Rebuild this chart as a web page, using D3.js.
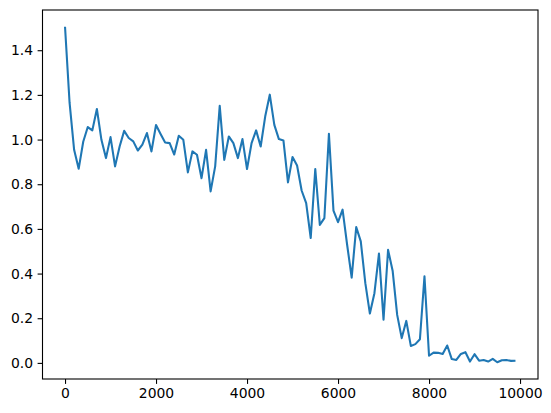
<!DOCTYPE html>
<meta charset="utf-8">
<style>
body { margin: 0; background: white; }
svg { display: block; }
.axis text { font-family: "DejaVu Sans", sans-serif; font-size: 13.9px; fill: black; }
.axis line { stroke: black; stroke-width: 1.1px; }
.axis path { display: none; }
.frame { fill: none; stroke: black; stroke-width: 1.1px; }
.line { fill: none; stroke: #1f77b4; stroke-width: 2.08px; stroke-linejoin: round; }
</style>
<svg width="551" height="413"></svg>
<script src="https://d3js.org/d3.v7.min.js"></script>
<script>

// x positions (step of 100) and values
var steps = d3.range(0, 10000, 100);
var values = [
  1.505, 1.165, 0.954, 0.869, 0.990, 1.056, 1.041, 1.137, 0.999, 0.917,
  1.011, 0.880, 0.969, 1.039, 1.007, 0.992, 0.951, 0.977, 1.029, 0.947,
  1.065, 1.025, 0.987, 0.984, 0.933, 1.017, 0.999, 0.853, 0.947, 0.932,
  0.827, 0.954, 0.768, 0.880, 1.151, 0.909, 1.014, 0.984, 0.917, 1.002,
  0.868, 0.984, 1.041, 0.969, 1.104, 1.201, 1.066, 1.002, 0.996, 0.808,
  0.922, 0.884, 0.772, 0.715, 0.559, 0.868, 0.618, 0.648, 1.026, 0.682,
  0.630, 0.686, 0.529, 0.382, 0.608, 0.544, 0.357, 0.221, 0.312, 0.490,
  0.193, 0.506, 0.413, 0.215, 0.111, 0.188, 0.076, 0.084, 0.106, 0.388,
  0.032, 0.046, 0.045, 0.040, 0.078, 0.017, 0.013, 0.040, 0.048, 0.006,
  0.039, 0.010, 0.013, 0.006, 0.018, 0.003, 0.012, 0.013, 0.009, 0.010
];
var xTicks = [0, 2000, 4000, 6000, 8000, 10000];
var yTicks = [0, 0.2, 0.4, 0.6, 0.8, 1.0, 1.2, 1.4];

var data = steps.map(function(s, i) { return {step: s, value: values[i]}; });

var svg = d3.select("svg"),
    margin = {top: 10, left: 42.5},
    width = 495.5,
    height = 369;

// matplotlib style 5% padding around the data
function pad(ext) {
  var r = ext[1] - ext[0];
  return [ext[0] - 0.05 * r, ext[1] + 0.05 * r];
}

var x = d3.scaleLinear().domain(pad(d3.extent(steps))).range([0, width]),
    y = d3.scaleLinear().domain(pad(d3.extent(values))).range([height, 0]);

var g = svg.append("g")
    .attr("transform", "translate(" + margin.left + "," + margin.top + ")");

var valueline = d3.line()
    .x(function(d) { return x(d.step); })
    .y(function(d) { return y(d.value); });

g.append("path")
    .datum(data)
    .attr("class", "line")
    .attr("d", valueline);

g.append("g")
    .attr("class", "axis axis--x")
    .attr("transform", "translate(0," + height + ")")
    .call(d3.axisBottom(x).tickValues(xTicks).tickSize(4.9).tickPadding(4.5).tickFormat(d3.format("d")));

g.append("g")
    .attr("class", "axis axis--y")
    .call(d3.axisLeft(y).tickValues(yTicks).tickSize(4.9).tickPadding(4.5).tickFormat(d3.format(".1f")));

g.append("rect")
    .attr("class", "frame")
    .attr("width", width)
    .attr("height", height);

</script>
